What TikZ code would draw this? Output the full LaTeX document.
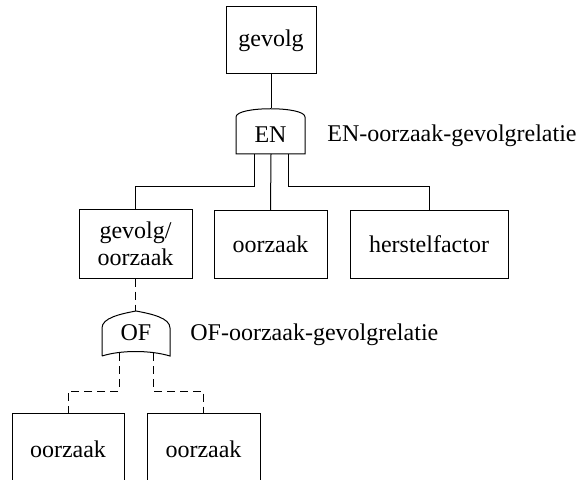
\documentclass[tikz,border=0pt]{standalone}
\usepackage{fontspec}
\setmainfont{Liberation Serif}
\usetikzlibrary{positioning}

\tikzset{
  txt/.style={font=\fontsize{12}{13.5}\selectfont},
  box/.style={txt, draw, line width=0.5pt, inner sep=0pt, align=center, minimum height=33.5pt},
  gatelbl/.style={txt, inner sep=0pt, anchor=base},
  wire/.style={line width=0.5pt},
  dwire/.style={line width=0.5pt, dash pattern=on 4pt off 2.5pt},
}

\begin{document}
\begin{tikzpicture}[x=0.5pt,y=-0.5pt]
  \useasboundingbox (0,0) rectangle (582,480);
  \clip (0,0) rectangle (582,480);
  % boxes
  \node[box, minimum width=45pt] (gevolg) at (271,40.5) {gevolg};
  \node[box, minimum width=56.5pt, minimum height=34pt] (gevoorz) at (135.5,244) {gevolg/\\oorzaak};
  \node[box, minimum width=56.5pt] (oorz) at (270.5,244.5) {oorzaak};
  \node[box, minimum width=79pt] (herstel) at (429,244.5) {herstelfactor};
  \node[box, minimum width=56pt, minimum height=36pt] (oorzL) at (68,449) {oorzaak};
  \node[box, minimum width=56.5pt, minimum height=36pt] (oorzR) at (203.5,449) {oorzaak};
  % EN gate
  \draw[wire] (236,154) -- (236,117)
    .. controls (236,106) and (305,106) .. (305,117) -- (305,154) -- cycle;
  \node[gatelbl] (en) at (270.5,143) {EN};
  \coordinate (enTop) at (271,108);
  \coordinate (enL) at (254,154);
  \coordinate (enM) at (271,154);
  \coordinate (enR) at (288,154);
  \node[txt, inner sep=0pt, anchor=base west] (enrel) at (327,142) {EN-oorzaak-gevolgrelatie};
  % OF gate
  \draw[wire] (102,356) -- (102,328)
    .. controls (102,318) and (120,314) .. (136,311)
    .. controls (152,314) and (170,318) .. (170,328) -- (170,356)
    .. controls (150,350) and (121,350) .. (102,356);
  \node[gatelbl] (of) at (136,340) {OF};
  \coordinate (ofTop) at (135.5,311);
  \coordinate (ofL) at (119,353);
  \coordinate (ofR) at (153,353);
  \node[txt, inner sep=0pt, anchor=base west] (ofrel) at (190,340) {OF-oorzaak-gevolgrelatie};
  % connectors
  \draw[wire] (gevolg.south) -- (enTop);
  \draw[wire] (enL) -- ++(0,33) -| (gevoorz.north);
  \draw[wire] (enM) -- (oorz.north);
  \draw[wire] (enR) -- ++(0,33) -| (herstel.north);
  \draw[dwire] (gevoorz.south) -- (ofTop);
  \draw[dwire] (ofL) -- ++(0,38) -| (oorzL.north);
  \draw[dwire] (ofR) -- ++(0,38) -| (oorzR.north);
\end{tikzpicture}
\end{document}
